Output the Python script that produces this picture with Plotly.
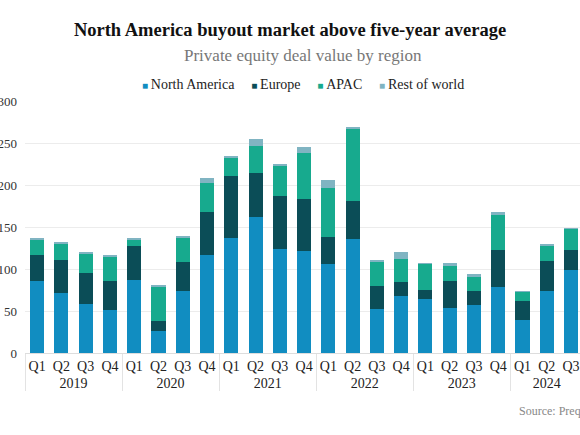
import plotly.graph_objects as go

# deal value by quarter, USD bn
years = ["2019"] * 4 + ["2020"] * 4 + ["2021"] * 4 + ["2022"] * 4 + ["2023"] * 4 + ["2024"] * 3
quarters = ["Q1", "Q2", "Q3", "Q4"] * 5 + ["Q1", "Q2", "Q3"]

north_america = [85.5, 71.2, 58.4, 51.7, 87.0, 26.2, 74.0, 116.9, 136.4, 162.2, 123.6, 120.9,
                 105.8, 135.6, 52.9, 68.0, 64.0, 53.7, 56.9, 78.0, 39.3, 74.4, 99.0]
europe = [31.4, 40.1, 37.0, 33.8, 39.9, 12.4, 33.8, 50.5, 74.3, 51.7, 63.6, 62.4,
          32.5, 44.9, 26.6, 16.7, 11.6, 32.6, 17.0, 44.5, 22.7, 34.6, 23.8]
apac = [17.5, 18.7, 23.1, 29.0, 8.7, 40.9, 28.6, 34.6, 22.3, 32.6, 35.8, 54.4,
        58.1, 86.5, 29.0, 27.4, 31.0, 17.4, 17.6, 42.0, 10.7, 19.0, 25.0]
rest_of_world = [2.6, 1.6, 1.5, 2.4, 0.8, 0.3, 2.6, 6.3, 0.5, 8.7, 1.6, 7.9,
                 9.5, 1.7, 1.5, 7.6, 0.5, 3.6, 2.3, 2.9, 0.4, 0.8, 0.8]

series = [
    ("North America", north_america, "#118dc1"),
    ("Europe", europe, "#0b4d57"),
    ("APAC", apac, "#17aa8e"),
    ("Rest of world", rest_of_world, "#80b4c2"),
]

SERIF = "Georgia, 'Liberation Serif', serif"

fig = go.Figure()
for name, vals, color in series:
    fig.add_trace(go.Bar(
        x=[years, quarters],
        y=vals,
        name=name,
        marker=dict(color=color, line=dict(width=0)),
        showlegend=False,
    ))

fig.update_layout(
    barmode="stack",
    bargap=0.42,
    width=580,
    height=435,
    margin=dict(l=25, r=0, t=101, b=82),
    paper_bgcolor="white",
    plot_bgcolor="white",
    font=dict(family=SERIF, size=13, color="#333333"),
    title=dict(
        text="<b>North America buyout market above five-year average</b>",
        x=0.5, xanchor="center", y=1 - 30 / 435, yanchor="middle",
        font=dict(family=SERIF, size=18.5, color="#111111"),
    ),
)

fig.update_xaxes(
    range=[-0.5, 22.37],
    showgrid=False,
    showline=True, linecolor="#dddddd", linewidth=1,
    showdividers=True, dividercolor="#e3e3e3", dividerwidth=1,
    tickfont=dict(family=SERIF, size=14, color="#222222"),
    tickangle=0,
    ticks="",
    automargin=False,
)
fig.update_yaxes(
    range=[0, 300],
    tickvals=[0, 50, 100, 150, 200, 250, 300],
    showgrid=True, gridcolor="#ececec", gridwidth=1,
    zeroline=False,
    automargin=False,
    tickfont=dict(family=SERIF, size=13, color="#333333"),
    ticklabelstandoff=7,
)

fig.add_annotation(
    text="Private equity deal value by region",
    xref="paper", yref="paper", x=0.5, y=1.1825,
    xanchor="center", yanchor="middle", showarrow=False,
    font=dict(family=SERIF, size=17, color="#777777"),
)

# compact legend: small square swatch right before each label
legend_text = "\u2003\u2009".join(
    f"<span style='color:{color};font-size:10px'>\u25a0</span>\u2009{name}" for name, _, color in series
)
fig.add_annotation(
    text=legend_text,
    xref="paper", yref="paper", x=0.5, y=1.0635,
    xanchor="center", yanchor="middle", showarrow=False,
    font=dict(family=SERIF, size=14, color="#222222"),
)

fig.add_annotation(
    text="Source: Preqin",
    xref="paper", yref="paper", x=(517 - 25) / 555, y=-0.23,
    xanchor="left", yanchor="middle", showarrow=False,
    font=dict(family=SERIF, size=12, color="#888888"),
)

# drop the default page margin so the figure sits at the window's top-left
fig.write_html(
    "out.html",
    config={"displayModeBar": False},
    post_script="document.body.style.margin = '0';",
)
